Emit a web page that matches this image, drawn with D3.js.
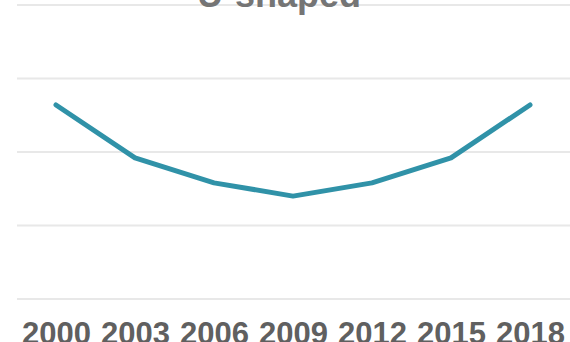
<!DOCTYPE html>
<html><head><meta charset="utf-8">
<script src="https://cdn.jsdelivr.net/npm/d3@7"></script>
<style>html,body{margin:0;padding:0;background:#fff;overflow:hidden}</style>
</head><body>
<svg id="c" width="570" height="342"></svg>
<script>
const years = ["2000","2003","2006","2009","2012","2015","2018"];
const values = [66, 48, 39.5, 35, 39.5, 48, 66];
const yTicks = [0, 25, 50, 75, 100];
const title = "U-shaped";

const svg = d3.select("#c");
const x = d3.scalePoint().domain(years).range([56, 530]);
const y = d3.scaleLinear().domain([0, 100]).range([299, 5]);

svg.append("g").selectAll("line").data(yTicks).join("line")
  .attr("x1", 17).attr("x2", 570)
  .attr("y1", d => y(d)).attr("y2", d => y(d))
  .attr("stroke", "#e8e8e8").attr("stroke-width", 2);

svg.append("text").attr("x", 279).attr("y", 7)
  .attr("text-anchor", "middle")
  .attr("font-family", "Liberation Sans, Arial, sans-serif")
  .attr("font-weight", "bold").attr("font-size", 36)
  .attr("fill", "#757575").text(title);

svg.append("path").datum(values)
  .attr("fill", "none").attr("stroke", "#3092a8")
  .attr("stroke-width", 5).attr("stroke-linejoin", "round").attr("stroke-linecap", "round")
  .attr("d", d3.line().x((d, i) => x(years[i])).y(d => y(d)));

const xa = svg.append("g").attr("transform", "translate(0,299)")
  .call(d3.axisBottom(x).tickSize(0).tickPadding(45));
xa.select(".domain").remove();
xa.selectAll("text")
  .attr("font-family", "Liberation Sans, Arial, sans-serif")
  .attr("font-weight", "bold").attr("font-size", 31)
  .attr("fill", "#606060").attr("dy", 0);
</script>
</body></html>
